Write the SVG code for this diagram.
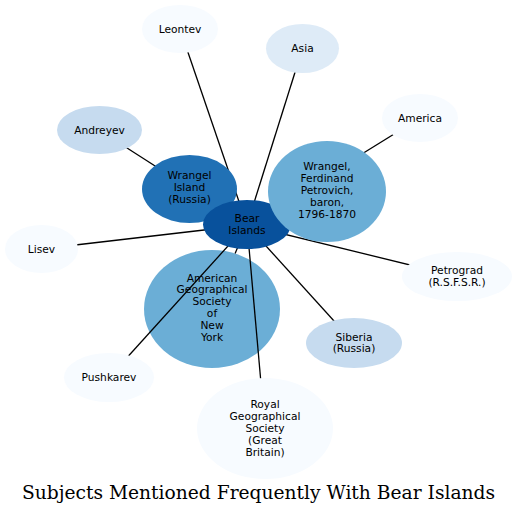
<svg xmlns="http://www.w3.org/2000/svg" width="517" height="515" viewBox="0 0 517 515">
<style>
.n text{font-family:"DejaVu Sans",sans-serif;font-size:10.67px;text-anchor:middle;fill:#000}
.e line{stroke:#000;stroke-width:1.3}
.c0{fill:#f7fbff}.c1{fill:#deebf7}.c2{fill:#c6dbef}.c3{fill:#6baed6}.c4{fill:#2171b5}.c5{fill:#08519c}
.title{font-family:"DejaVu Serif",serif;font-size:18.67px;text-anchor:middle;fill:#000}
</style>
<rect width="517" height="515" fill="#fff"/>
<g id="node-ags" class="n">
<ellipse class="c3" cx="212" cy="309" rx="68" ry="59"/>
<text x="212" y="281.5">American</text>
<text x="212" y="293.4">Geographical</text>
<text x="212" y="305.3">Society</text>
<text x="212" y="317.2">of</text>
<text x="212" y="329.1">New</text>
<text x="212" y="341">York</text>
</g>
<g id="edges" class="e">
<line x1="247" y1="225" x2="180" y2="29"/>
<line x1="247" y1="225" x2="302.5" y2="48.5"/>
<line x1="247" y1="225" x2="99" y2="130"/>
<line x1="247" y1="225" x2="420" y2="118"/>
<line x1="247" y1="225" x2="189.5" y2="189"/>
<line x1="247" y1="225" x2="327" y2="191.5"/>
<line x1="247" y1="225" x2="41" y2="249"/>
<line x1="247" y1="225" x2="457" y2="276.5"/>
<line x1="247" y1="225" x2="235.1" y2="253.5"/>
<line x1="247" y1="225" x2="354" y2="343"/>
<line x1="247" y1="225" x2="109" y2="377.5"/>
<line x1="247" y1="225" x2="265" y2="428.5"/>
</g>
<g id="node-leontev" class="n">
<ellipse class="c0" cx="180" cy="29" rx="38" ry="24"/>
<text x="180" y="32.5">Leontev</text>
</g>
<g id="node-asia" class="n">
<ellipse class="c1" cx="302.5" cy="48.5" rx="36.5" ry="24.5"/>
<text x="302.5" y="52">Asia</text>
</g>
<g id="node-andreyev" class="n">
<ellipse class="c2" cx="99.5" cy="130" rx="42.5" ry="24"/>
<text x="99.5" y="133.5">Andreyev</text>
</g>
<g id="node-america" class="n">
<ellipse class="c0" cx="420" cy="118" rx="38" ry="24"/>
<text x="420" y="121.5">America</text>
</g>
<g id="node-wrangel-island" class="n">
<ellipse class="c4" cx="189.5" cy="189" rx="47.5" ry="34"/>
<text x="189.5" y="179">Wrangel</text>
<text x="189.5" y="191">Island</text>
<text x="189.5" y="203">(Russia)</text>
</g>
<g id="node-bear" class="n">
<ellipse class="c5" cx="247" cy="224.5" rx="44" ry="24.5"/>
<text x="247" y="222">Bear</text>
<text x="247" y="233.5">Islands</text>
</g>
<g id="node-wrangel-ferdinand" class="n">
<ellipse class="c3" cx="327" cy="191.5" rx="59" ry="50.5"/>
<text x="327" y="170">Wrangel,</text>
<text x="327" y="181.9">Ferdinand</text>
<text x="327" y="193.8">Petrovich,</text>
<text x="327" y="205.7">baron,</text>
<text x="327" y="217.6">1796-1870</text>
</g>
<g id="node-lisev" class="n">
<ellipse class="c0" cx="41.5" cy="249" rx="36.5" ry="24"/>
<text x="41.5" y="252.5">Lisev</text>
</g>
<g id="node-petrograd" class="n">
<ellipse class="c0" cx="457" cy="276.5" rx="55" ry="24.5"/>
<text x="457" y="274">Petrograd</text>
<text x="457" y="285.9">(R.S.F.S.R.)</text>
</g>
<g id="node-siberia" class="n">
<ellipse class="c2" cx="354" cy="343" rx="48" ry="25"/>
<text x="354" y="340.5">Siberia</text>
<text x="354" y="352.4">(Russia)</text>
</g>
<g id="node-pushkarev" class="n">
<ellipse class="c0" cx="109" cy="377.5" rx="45" ry="24.5"/>
<text x="109" y="381">Pushkarev</text>
</g>
<g id="node-royal" class="n">
<ellipse class="c0" cx="265" cy="428.5" rx="68" ry="50.5"/>
<text x="265" y="408">Royal</text>
<text x="265" y="419.9">Geographical</text>
<text x="265" y="431.8">Society</text>
<text x="265" y="443.7">(Great</text>
<text x="265" y="455.6">Britain)</text>
</g>
<text class="title" x="258.5" y="499">Subjects Mentioned Frequently With Bear Islands</text>
</svg>
